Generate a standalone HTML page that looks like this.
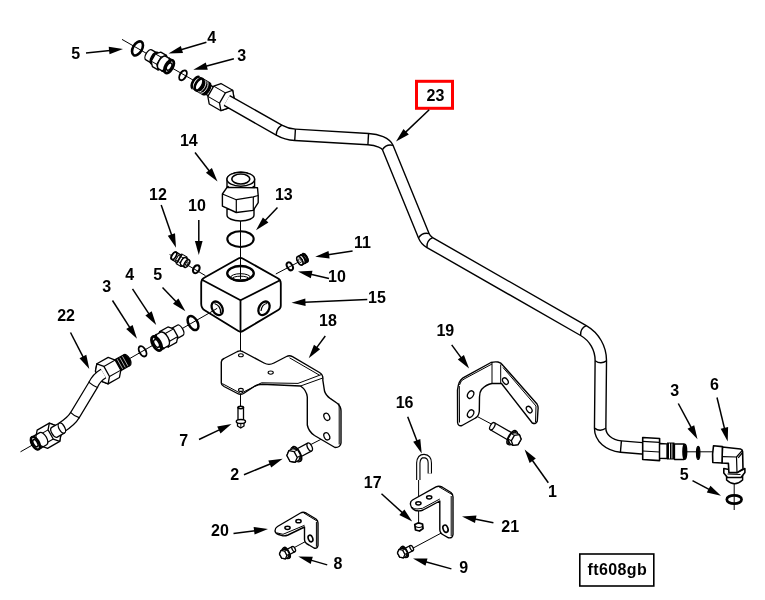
<!DOCTYPE html>
<html><head><meta charset="utf-8"><style>
html,body{margin:0;padding:0;background:#fff;width:765px;height:600px;overflow:hidden}
svg{display:block;will-change:transform}
.l{font-family:"Liberation Sans",sans-serif;font-weight:bold;font-size:16px;fill:#000}
</style></head><body>
<svg width="765" height="600" viewBox="0 0 765 600">
<rect width="765" height="600" fill="#fff"/>
<line x1="122.0" y1="39.4" x2="193.0" y2="80.0" stroke="#000" stroke-width="1.0"/>
<line x1="240.5" y1="221.0" x2="240.5" y2="258.0" stroke="#000" stroke-width="1.0"/>
<line x1="240.5" y1="332.0" x2="240.5" y2="407.0" stroke="#000" stroke-width="1.0"/>
<line x1="169.6" y1="254.5" x2="205.5" y2="275.7" stroke="#000" stroke-width="1.0"/>
<line x1="275.8" y1="274.0" x2="303.6" y2="259.4" stroke="#000" stroke-width="1.0"/>
<line x1="20.5" y1="451.8" x2="50.0" y2="435.0" stroke="#000" stroke-width="1.0"/>
<line x1="128.0" y1="359.5" x2="217.2" y2="308.5" stroke="#000" stroke-width="1.0"/>
<line x1="687.0" y1="451.8" x2="713.0" y2="451.8" stroke="#000" stroke-width="1.0"/>
<line x1="734.2" y1="483.7" x2="734.2" y2="510.0" stroke="#000" stroke-width="1.0"/>
<line x1="309.3" y1="445.3" x2="327.5" y2="436.0" stroke="#000" stroke-width="1.0"/>
<line x1="491.3" y1="424.0" x2="470.7" y2="413.0" stroke="#000" stroke-width="1.0"/>
<line x1="418.6" y1="480.0" x2="418.6" y2="523.0" stroke="#000" stroke-width="1.0"/>
<line x1="409.5" y1="550.0" x2="446.2" y2="530.4" stroke="#000" stroke-width="1.0"/>
<line x1="287.9" y1="551.0" x2="309.8" y2="539.2" stroke="#000" stroke-width="1.0"/>
<g transform="translate(137.50,48.40) rotate(29.90)">
<ellipse cx="0" cy="0" rx="4.5" ry="7.7" fill="none" stroke="#000" stroke-width="2.6"/>
<path d="M21,-5.8 L13,-5.8 A2.9,5.8 0 0 0 13,5.8 L21,5.8" fill="#fff" stroke="#000" stroke-width="1.3"/>
<ellipse cx="21" cy="0" rx="2.9" ry="5.8" fill="#fff" stroke="#000" stroke-width="1.3"/>
<path d="M22.5,-6.6 L19.5,-6.6 A3.3,6.6 0 0 0 19.5,6.6 L22.5,6.6" fill="#000" stroke="#000" stroke-width="1.3"/>
<ellipse cx="22.5" cy="0" rx="3.3" ry="6.6" fill="#000" stroke="#000" stroke-width="1.3"/>
<polygon points="22.00,-8.40 28.50,-8.40 32.28,-4.20 32.28,4.20 28.50,8.40 22.00,8.40 18.22,4.20 18.22,-4.20" fill="#fff" stroke="#000" stroke-width="1.3" stroke-linejoin="round"/>
<polygon points="28.50,-8.40 32.28,-4.20 32.28,4.20 28.50,8.40 24.72,4.20 24.72,-4.20" fill="#fff" stroke="#000" stroke-width="1.3" stroke-linejoin="round"/>
<path d="M24.72,-4.20 L18.22,-4.20 M24.72,4.20 L18.22,4.20" stroke="#000" stroke-width="1.04" fill="none"/>
<path d="M36.5,-7.2 L28.5,-7.2 A3.6,7.2 0 0 0 28.5,7.2 L36.5,7.2" fill="#fff" stroke="#000" stroke-width="1.3"/>
<ellipse cx="36.5" cy="0" rx="3.6" ry="7.2" fill="#fff" stroke="#000" stroke-width="2.8"/>
<path d="M32,-7.2 A3.6,7.2 0 0 1 32,7.2" fill="none" stroke="#000" stroke-width="2.2"/>
<ellipse cx="36.5" cy="0" rx="2.2" ry="4.0" fill="#fff" stroke="#000" stroke-width="1.5"/>
</g>
<g transform="translate(183.00,75.30) rotate(29.90)">
<ellipse cx="0" cy="0" rx="3.1" ry="5.4" fill="none" stroke="#000" stroke-width="1.9"/>
<path d="M36,-5 L27,-5 A2.5,5 0 0 0 27,5 L36,5" fill="#fff" stroke="#000" stroke-width="1.3"/>
<ellipse cx="36" cy="0" rx="2.5" ry="5" fill="#fff" stroke="#000" stroke-width="1.3"/>
<path d="M27,-6.8 L19,-6.8 A3.4,6.8 0 0 0 19,6.8 L27,6.8" fill="#000" stroke="#000" stroke-width="1.3"/>
<ellipse cx="27" cy="0" rx="3.4" ry="6.8" fill="#000" stroke="#000" stroke-width="1.3"/>
<path d="M21.3,-6.6 A3.4,6.6 0 0 1 21.3,6.6 M23.8,-6.6 A3.4,6.6 0 0 1 23.8,6.6" fill="none" stroke="#fff" stroke-width="0.8"/>
<path d="M15,-6.6 A3.3,6.6 0 0 0 15,6.6" fill="none" stroke="#000" stroke-width="2.6"/>
<path d="M15,-6.6 L19,-6.6 M15,6.6 L19,6.6" fill="none" stroke="#000" stroke-width="1.3"/>
<ellipse cx="18.5" cy="0" rx="3.3" ry="6.6" fill="#fff" stroke="#000" stroke-width="2.6"/>
<polygon points="37.00,-11.80 50.50,-11.80 55.46,-5.90 55.46,5.90 50.50,11.80 37.00,11.80 32.04,5.90 32.04,-5.90" fill="#fff" stroke="#000" stroke-width="1.3" stroke-linejoin="round"/>
<polygon points="50.50,-11.80 55.46,-5.90 55.46,5.90 50.50,11.80 45.54,5.90 45.54,-5.90" fill="#fff" stroke="#000" stroke-width="1.3" stroke-linejoin="round"/>
<path d="M45.54,-5.90 L32.04,-5.90 M45.54,5.90 L32.04,5.90" stroke="#000" stroke-width="1.04" fill="none"/>
</g>
<path d="M226.80,100.50 L279.03,130.07 A37,37 0 0 0 295.07,134.81 L368.23,139.13 C377.78,139.69 385.97,143.21 387.73,147.51 L423.78,235.74 A14,14 0 0 0 429.78,242.59 L583.45,330.55 A34.5,34.5 0 0 1 600.81,360.83 L600.16,428.20 C600.07,437.77 608.79,445.46 620.92,446.51 L645.00,448.60" fill="none" stroke="#000" stroke-width="12.8"/>
<path d="M226.80,100.50 L279.03,130.07 A37,37 0 0 0 295.07,134.81 L368.23,139.13 C377.78,139.69 385.97,143.21 387.73,147.51 L423.78,235.74 A14,14 0 0 0 429.78,242.59 L583.45,330.55 A34.5,34.5 0 0 1 600.81,360.83 L600.16,428.20 C600.07,437.77 608.79,445.46 620.92,446.51 L645.00,448.60" fill="none" stroke="#fff" stroke-width="10.0"/>
<path d="M276.22,135.03 Q276.42,128.59 281.83,125.11" fill="none" stroke="#000" stroke-width="1.4"/>
<path d="M294.74,140.50 Q295.07,134.81 295.41,129.12" fill="none" stroke="#000" stroke-width="1.4"/>
<path d="M367.89,144.82 Q368.23,139.13 368.56,133.44" fill="none" stroke="#000" stroke-width="1.4"/>
<path d="M382.45,149.66 Q386.21,143.80 393.00,145.35" fill="none" stroke="#000" stroke-width="1.4"/>
<path d="M418.50,237.89 Q422.26,232.04 429.05,233.58" fill="none" stroke="#000" stroke-width="1.4"/>
<path d="M426.95,247.54 Q426.31,240.61 432.61,237.65" fill="none" stroke="#000" stroke-width="1.4"/>
<path d="M580.61,335.50 Q579.97,328.56 586.28,325.61" fill="none" stroke="#000" stroke-width="1.4"/>
<path d="M595.11,360.77 Q600.77,364.83 606.51,360.88" fill="none" stroke="#000" stroke-width="1.4"/>
<path d="M594.46,428.15 Q600.12,432.20 605.86,428.26" fill="none" stroke="#000" stroke-width="1.4"/>
<path d="M620.43,452.19 Q620.92,446.51 621.41,440.83" fill="none" stroke="#000" stroke-width="1.4"/>
<polygon points="642.7,437.5 659.6,438.5 659.6,460.6 642.7,459.5" fill="#fff" stroke="#000" stroke-width="1.6" stroke-linejoin="round"/>
<line x1="642.7" y1="441.3" x2="659.6" y2="442.3" stroke="#000" stroke-width="1.2"/>
<line x1="642.7" y1="451.0" x2="659.6" y2="452.0" stroke="#000" stroke-width="1.2"/>
<polygon points="659.6,443.5 667.0,443.8 667.0,458.5 659.6,458.3" fill="#fff" stroke="#000" stroke-width="1.3" stroke-linejoin="round"/>
<rect x="667" y="442.5" width="7.5" height="17" fill="#000"/>
<rect x="669" y="443.5" width="1" height="15" fill="#fff"/><rect x="671.5" y="443.5" width="0.8" height="15" fill="#fff"/>
<polygon points="674.5,444.0 684.0,444.0 684.0,459.5 674.5,459.5" fill="#fff" stroke="#000" stroke-width="1.3" stroke-linejoin="round"/>
<ellipse cx="684.8" cy="451.8" rx="1.8" ry="7.5" fill="#000" stroke="#000" stroke-width="1.6"/>
<ellipse cx="698.2" cy="452.9" rx="1.7" ry="6.6" fill="#000" stroke="#000" stroke-width="1.2"/>
<path d="M726.6,475 L726.6,480 Q734.5,487.5 742.6,480 L742.6,475 Z" fill="#fff" stroke="#000" stroke-width="1.5" stroke-linejoin="round"/>
<path d="M723.8,468.5 L728.9,469.5 L737.1,472.6 L744.9,468.5 L744.9,472.5 L741,477.5 L727.5,477.5 L723.8,473 Z" fill="#fff" stroke="#000" stroke-width="1.6" stroke-linejoin="round"/>
<path d="M727.5,474 L740.5,474.5" stroke="#000" stroke-width="1.1" fill="none"/>
<path d="M722.4,447 L740.5,449 Q742.6,449.5 742.6,451.5 L743,469 L737,472.6 L728.9,472.6 L728.4,463.4 L722,463 Z" fill="#fff" stroke="#000" stroke-width="1.6" stroke-linejoin="round"/>
<path d="M722.4,456.6 L736.5,457 L737,472.6 M736.5,457 L742.3,450.3 M738.2,457.8 L742.6,452.5" stroke="#000" stroke-width="1.2" fill="none"/>
<path d="M713.5,445.8 L722.4,446.6 L722,463 L712.8,462.5 Q712,454 713.5,445.8 Z" fill="#fff" stroke="#000" stroke-width="1.6" stroke-linejoin="round"/>
<ellipse cx="734.2" cy="499.5" rx="7.4" ry="4.2" fill="none" stroke="#000" stroke-width="2.7"/>
<path d="M237.89,258.68 Q240.50,257.20 243.11,258.68 L277.75,278.28 Q280.80,280.00 280.80,283.50 L280.80,305.50 Q280.80,308.50 278.22,310.03 L242.65,331.12 Q240.50,332.40 238.37,331.09 L205.03,310.56 Q201.20,308.20 201.20,303.70 L201.20,283.00 Q201.20,279.50 204.24,277.77 Z" fill="#fff" stroke="#000" stroke-width="1.8" stroke-linejoin="round"/>
<polyline points="201.5,279.5 240.5,300.3 280.5,280.0" fill="none" stroke="#000" stroke-width="1.8" stroke-linejoin="round"/>
<line x1="240.5" y1="300.3" x2="240.5" y2="332.2" stroke="#000" stroke-width="1.8"/>
<ellipse cx="240.50" cy="273.30" rx="13.3" ry="7.3" transform="rotate(0.0 240.50 273.30)" fill="none" stroke="#000" stroke-width="2.3"/>
<path d="M228,275 A12.8,6.5 0 0 0 253,275" fill="none" stroke="#000" stroke-width="1.2"/>
<ellipse cx="240.50" cy="277.30" rx="9.8" ry="3.6" transform="rotate(0.0 240.50 277.30)" fill="none" stroke="#000" stroke-width="1.0"/>
<ellipse cx="240.50" cy="278.80" rx="8.5" ry="2.6" transform="rotate(0.0 240.50 278.80)" fill="none" stroke="#000" stroke-width="1.0"/>
<line x1="240.5" y1="258.0" x2="240.5" y2="279.0" stroke="#000" stroke-width="1.0"/>
<ellipse cx="217.20" cy="308.30" rx="5.0" ry="7.3" transform="rotate(-30.0 217.20 308.30)" fill="none" stroke="#000" stroke-width="2.3"/>
<path d="M214.5,303.5 Q221.5,306 220.5,313.5" fill="none" stroke="#000" stroke-width="1.3" transform="rotate(0)"/>
<line x1="210.0" y1="312.6" x2="217.2" y2="308.3" stroke="#000" stroke-width="1.0"/>
<ellipse cx="264.00" cy="308.30" rx="5.0" ry="7.3" transform="rotate(30.0 264.00 308.30)" fill="none" stroke="#000" stroke-width="2.3"/>
<path d="M261,311 Q262,304 267,303.5" fill="none" stroke="#000" stroke-width="1.2"/>
<path d="M227,179.2 L227,190 L254.6,190 L254.6,179.2 A13.8,7 0 0 0 227,179.2 Z" fill="#fff" stroke="#000" stroke-width="1.4" stroke-linejoin="round"/>
<ellipse cx="240.8" cy="179.2" rx="13.8" ry="7" fill="#fff" stroke="#000" stroke-width="1.4"/>
<ellipse cx="240.8" cy="179" rx="9" ry="5" fill="#fff" stroke="#000" stroke-width="1.6"/>
<path d="M227.5,186 A13.5,6.5 0 0 0 254,186" fill="none" stroke="#000" stroke-width="1.8"/>
<path d="M227,209 L227,215 A13.5,6 0 0 0 254,215 L254,209 Z" fill="#fff" stroke="#000" stroke-width="1.4" stroke-linejoin="round"/>
<polygon points="222.4,194.0 227.0,187.4 257.5,187.7 258.2,195.5 258.2,202.6 253.3,210.4 236.3,212.5 222.4,206.1" fill="#fff" stroke="#000" stroke-width="1.4" stroke-linejoin="round"/>
<polyline points="222.4,194.0 236.3,199.7 253.3,196.9 258.2,195.5" fill="none" stroke="#000" stroke-width="1.2" stroke-linejoin="round"/>
<line x1="236.3" y1="199.7" x2="236.3" y2="212.5" stroke="#000" stroke-width="1.2"/>
<line x1="253.3" y1="196.9" x2="253.3" y2="210.4" stroke="#000" stroke-width="1.2"/>
<ellipse cx="240.5" cy="239.1" rx="13.2" ry="7.9" fill="none" stroke="#000" stroke-width="2.1"/>
<g transform="translate(196.30,269.20) rotate(31.00)">
<ellipse cx="0" cy="0" rx="2.9" ry="4.3" fill="none" stroke="#000" stroke-width="2.1"/>
<path d="M-19.5,-4.3 L-26,-4.3 A2.15,4.3 0 0 0 -26,4.3 L-19.5,4.3" fill="#fff" stroke="#000" stroke-width="1.3"/>
<ellipse cx="-19.5" cy="0" rx="2.15" ry="4.3" fill="#fff" stroke="#000" stroke-width="1.3"/>
<ellipse cx="-26" cy="0" rx="2.0" ry="4.1" fill="#fff" stroke="#000" stroke-width="1.8"/>
<polygon points="-20.00,-5.60 -14.50,-5.60 -11.98,-2.80 -11.98,2.80 -14.50,5.60 -20.00,5.60 -22.52,2.80 -22.52,-2.80" fill="#fff" stroke="#000" stroke-width="1.0" stroke-linejoin="round"/>
<polygon points="-14.50,-5.60 -11.98,-2.80 -11.98,2.80 -14.50,5.60 -17.02,2.80 -17.02,-2.80" fill="#fff" stroke="#000" stroke-width="1.0" stroke-linejoin="round"/>
<path d="M-17.02,-2.80 L-22.52,-2.80 M-17.02,2.80 L-22.52,2.80" stroke="#000" stroke-width="0.8" fill="none"/>
<path d="M-20,-5.2 L-20,5.2" stroke="#000" stroke-width="1.8"/>
<path d="M-11,-4.3 L-15,-4.3 A2.15,4.3 0 0 0 -15,4.3 L-11,4.3" fill="#fff" stroke="#000" stroke-width="1.3"/>
<ellipse cx="-11" cy="0" rx="2.15" ry="4.3" fill="#fff" stroke="#000" stroke-width="1.6"/>
<ellipse cx="-11" cy="0" rx="1" ry="2" fill="#fff" stroke="#000" stroke-width="1.0"/>
</g>
<g transform="translate(289.80,266.30) rotate(-29.00)">
<ellipse cx="0" cy="0" rx="2.6" ry="4.3" fill="none" stroke="#000" stroke-width="2"/>
<path d="M11.5,-4.6 L17,-4.6 A2.3,4.6 0 0 1 17,4.6 L11.5,4.6" fill="#fff" stroke="#000" stroke-width="1.5"/>
<ellipse cx="11.5" cy="0" rx="2.3" ry="4.6" fill="#fff" stroke="#000" stroke-width="1.5"/>
<path d="M14.5,-4.6 A2.3,4.6 0 0 1 14.5,4.6 M17,-4.6 A2.3,4.6 0 0 1 17,4.6" fill="none" stroke="#000" stroke-width="2.2"/>
<ellipse cx="11.5" cy="0" rx="2.3" ry="4.6" fill="#fff" stroke="#000" stroke-width="1.5"/>
<ellipse cx="11.5" cy="0" rx="1.1" ry="2.2" fill="none" stroke="#000" stroke-width="0.7"/>
</g>
<g transform="translate(142.60,351.30) rotate(-29.30)">
<ellipse cx="0" cy="0" rx="3.2" ry="5.6" fill="none" stroke="#000" stroke-width="1.9"/>
<path d="M34,-5.8 L43,-5.8 A2.9,5.8 0 0 1 43,5.8 L34,5.8" fill="#fff" stroke="#000" stroke-width="1.3"/>
<ellipse cx="34" cy="0" rx="2.9" ry="5.8" fill="#fff" stroke="#000" stroke-width="1.3"/>
<polygon points="24.50,-8.80 34.00,-8.80 37.96,-4.40 37.96,4.40 34.00,8.80 24.50,8.80 20.54,4.40 20.54,-4.40" fill="#fff" stroke="#000" stroke-width="1.3" stroke-linejoin="round"/>
<polygon points="24.50,-8.80 28.46,-4.40 28.46,4.40 24.50,8.80 20.54,4.40 20.54,-4.40" fill="#fff" stroke="#000" stroke-width="1.3" stroke-linejoin="round"/>
<path d="M28.46,-4.40 L37.96,-4.40 M28.46,4.40 L37.96,4.40" stroke="#000" stroke-width="1.04" fill="none"/>
<path d="M16,-7.8 L25,-7.8 A3.9,7.8 0 0 1 25,7.8 L16,7.8" fill="#fff" stroke="#000" stroke-width="1.3"/>
<ellipse cx="16" cy="0" rx="3.9" ry="7.8" fill="#fff" stroke="#000" stroke-width="2.8"/>
<path d="M20.5,-7.8 A3.9,7.8 0 0 0 20.5,7.8" fill="none" stroke="#000" stroke-width="2.2"/>
<ellipse cx="16" cy="0" rx="2.3" ry="4.2" fill="#fff" stroke="#000" stroke-width="1.5"/>
<ellipse cx="57.8" cy="0" rx="4.5" ry="7.7" fill="none" stroke="#000" stroke-width="2.5"/>
<path d="M-18,-6.2 L-31,-6.2 A3.1,6.2 0 0 0 -31,6.2 L-18,6.2" fill="#000" stroke="#000" stroke-width="1.3"/>
<ellipse cx="-18" cy="0" rx="3.1" ry="6.2" fill="#000" stroke="#000" stroke-width="1.3"/>
<path d="M-26,-5.5 L-26,5.5 M-23,-5.5 L-23,5.5 M-20,-5.5 L-20,5.5" stroke="#fff" stroke-width="0.6"/>
<polygon points="-46.00,-11.50 -33.00,-11.50 -28.17,-5.75 -28.17,5.75 -33.00,11.50 -46.00,11.50 -50.83,5.75 -50.83,-5.75" fill="#fff" stroke="#000" stroke-width="1.3" stroke-linejoin="round"/>
<polygon points="-46.00,-11.50 -41.17,-5.75 -41.17,5.75 -46.00,11.50 -50.83,5.75 -50.83,-5.75" fill="#fff" stroke="#000" stroke-width="1.3" stroke-linejoin="round"/>
<path d="M-41.17,-5.75 L-28.17,-5.75 M-41.17,5.75 L-28.17,5.75" stroke="#000" stroke-width="1.04" fill="none"/>
</g>
<path d="M103.5,373.5 Q96.5,377.5 93.2,384.8 L75,415 Q71.5,421 61.5,427.5" fill="none" stroke="#000" stroke-width="11.2"/>
<path d="M103.5,373.5 Q96.5,377.5 93.2,384.8 L75,415 Q71.5,421 61.5,427.5" fill="none" stroke="#fff" stroke-width="8.8"/>
<path d="M88.4,381.9 Q92.5,385.5 98,387.7 M70.2,412.1 Q74.5,416.5 79.8,417.9" fill="none" stroke="#000" stroke-width="1.2"/>
<g transform="translate(38.00,441.70) rotate(-29.70)">
<polygon points="5.00,-10.50 19.00,-10.50 23.41,-5.25 23.41,5.25 19.00,10.50 5.00,10.50 0.59,5.25 0.59,-5.25" fill="#fff" stroke="#000" stroke-width="1.3" stroke-linejoin="round"/>
<polygon points="19.00,-10.50 23.41,-5.25 23.41,5.25 19.00,10.50 14.59,5.25 14.59,-5.25" fill="#fff" stroke="#000" stroke-width="1.3" stroke-linejoin="round"/>
<path d="M14.59,-5.25 L0.59,-5.25 M14.59,5.25 L0.59,5.25" stroke="#000" stroke-width="1.04" fill="none"/>
<path d="M27.5,-5.6 L19,-5.6 A2.8,5.6 0 0 0 19,5.6 L27.5,5.6" fill="#fff" stroke="#000" stroke-width="1.3"/>
<ellipse cx="27.5" cy="0" rx="2.8" ry="5.6" fill="#fff" stroke="#000" stroke-width="1.3"/>
<path d="M-3,-7.0 L6,-7.0 A3.5,7.0 0 0 1 6,7.0 L-3,7.0" fill="#fff" stroke="#000" stroke-width="1.3"/>
<ellipse cx="-3" cy="0" rx="3.5" ry="7.0" fill="#fff" stroke="#000" stroke-width="1.3"/>
<path d="M0.5,-7.2 A3.5,7.2 0 0 0 0.5,7.2 M3,-7.2 A3.5,7.2 0 0 0 3,7.2" fill="none" stroke="#000" stroke-width="1.3"/>
<ellipse cx="-3" cy="0" rx="3.5" ry="7.0" fill="#fff" stroke="#000" stroke-width="2.4"/>
<ellipse cx="-3" cy="0" rx="2.0" ry="4.0" fill="#fff" stroke="#000" stroke-width="1.6"/>
</g>
<path d="M221.3,362 Q221.5,359.5 224,358.5 L237.5,351.5 Q240,350.3 242.5,351.5 L264,363 Q269,365.7 274,363 L286.5,356.5 Q289.5,355 292.5,356.7 L319.5,372.5 Q323.5,375 322.8,380 L324.5,391 Q325.5,395 330.5,398.7 L337.5,403.5 Q341,406.5 341,411 L341,443 Q340.5,447.5 335,447.5 L314.5,435.5 Q308.5,431.5 307.3,425 L307.3,397 Q306.5,390 300.5,386 L262,384.3 Q258,384.5 255,386 L243.5,393.5 Q240.5,395.3 237.5,393.5 L224,386.5 Q221.3,385 221.3,383 Z" fill="#fff" stroke="#000" stroke-width="1.4" stroke-linejoin="round"/>
<path d="M222.3,383.6 L240.7,393.4 L261.5,382.8 L298,383.4 L321.5,374.5 M338.8,403.3 Q339.3,407 339.2,411 L339.2,444.5 M300.5,386 L322.8,378 M289.5,357.8 L319.5,375.2" stroke="#000" stroke-width="1.0" fill="none"/>
<ellipse cx="240.9" cy="355.2" rx="2.4" ry="1.5" fill="#fff" stroke="#000" stroke-width="1.1"/>
<ellipse cx="270.7" cy="372.6" rx="2.6" ry="1.6" fill="#fff" stroke="#000" stroke-width="1.1"/>
<ellipse cx="240.9" cy="389.9" rx="2.4" ry="1.5" fill="#fff" stroke="#000" stroke-width="1.1"/>
<ellipse cx="326.80" cy="416.80" rx="2.7" ry="3.8" transform="rotate(-25.0 326.80 416.80)" fill="none" stroke="#000" stroke-width="1.3"/>
<ellipse cx="326.80" cy="436.30" rx="2.7" ry="3.8" transform="rotate(-25.0 326.80 436.30)" fill="none" stroke="#000" stroke-width="1.3"/>
<path d="M238,407.5 L243.5,407.5 L243.5,420 L238,420 Z" fill="#fff" stroke="#000" stroke-width="1.3" stroke-linejoin="round"/>
<ellipse cx="240.75" cy="407.5" rx="2.75" ry="1.2" fill="#fff" stroke="#000" stroke-width="1.6"/>
<path d="M237.5,422 L244,422 L244,426 L240.75,428 L237.5,426 Z" fill="#fff" stroke="#000" stroke-width="1.3" stroke-linejoin="round"/>
<ellipse cx="240.9" cy="421.5" rx="4.6" ry="2.0" fill="#fff" stroke="#000" stroke-width="1.4"/>
<line x1="240.8" y1="423.5" x2="240.8" y2="427.5" stroke="#000" stroke-width="0.9"/>
<g transform="translate(292.5,456.2) rotate(-28) scale(1.0)">
<path d="M19.5,-4.4 L6,-4.4 A2.2,4.4 0 0 0 6,4.4 L19.5,4.4" fill="#fff" stroke="#000" stroke-width="1.3"/>
<ellipse cx="19.5" cy="0" rx="2.2" ry="4.4" fill="#fff" stroke="#000" stroke-width="1.3"/>
<ellipse cx="5" cy="0" rx="3.3" ry="8.2" fill="#fff" stroke="#000" stroke-width="1.6"/>
<ellipse cx="3.5" cy="0" rx="3.3" ry="8.0" fill="#fff" stroke="#000" stroke-width="1.3"/>
<polygon points="-0.50,-6.60 3.50,-6.60 7.59,-3.30 7.59,3.30 3.50,6.60 -0.50,6.60 -4.59,3.30 -4.59,-3.30" fill="#fff" stroke="#000" stroke-width="1.3" stroke-linejoin="round"/>
<polygon points="-0.50,-6.60 3.59,-3.30 3.59,3.30 -0.50,6.60 -4.59,3.30 -4.59,-3.30" fill="#fff" stroke="#000" stroke-width="1.3" stroke-linejoin="round"/>
<path d="M3.59,-3.30 L7.59,-3.30 M3.59,3.30 L7.59,3.30" stroke="#000" stroke-width="1.04" fill="none"/>
</g>
<path d="M457.5,390 Q458.5,380.5 463,377.8 L491,362.5 Q494.5,361.5 498,362 Q501,362.5 503,365.5 L537,404 Q538.5,406.5 538,409.5 L537.3,421 Q536,424.5 532.3,423 L501.5,383.5 L492,383.5 Q486,384.5 481.5,389.5 Q479.5,392 479.5,397 L479.3,411.5 Q478.5,416.5 475.5,418 L462,425.5 Q458,426.5 457.6,422.5 Z" fill="#fff" stroke="#000" stroke-width="1.4" stroke-linejoin="round"/>
<path d="M492,362.5 L492,383.5 M500.7,364.5 L500.7,384 M459.5,385 Q460.5,380 465,378.5 L492,364 M459.3,386 L459.5,422.5 M503,367.5 L536,406 L535.5,422" stroke="#000" stroke-width="1.0" fill="none"/>
<ellipse cx="470.60" cy="394.60" rx="2.8" ry="4.0" transform="rotate(30.0 470.60 394.60)" fill="none" stroke="#000" stroke-width="1.3"/>
<ellipse cx="470.60" cy="413.60" rx="2.8" ry="4.0" transform="rotate(30.0 470.60 413.60)" fill="none" stroke="#000" stroke-width="1.3"/>
<ellipse cx="505.40" cy="381.10" rx="2.4" ry="3.6" transform="rotate(-35.0 505.40 381.10)" fill="none" stroke="#000" stroke-width="1.3"/>
<ellipse cx="529.20" cy="409.60" rx="2.4" ry="3.6" transform="rotate(-35.0 529.20 409.60)" fill="none" stroke="#000" stroke-width="1.3"/>
<g transform="translate(515.8,439.8) rotate(-150) scale(0.95)">
<path d="M28.5,-4.3 L6,-4.3 A2.15,4.3 0 0 0 6,4.3 L28.5,4.3" fill="#fff" stroke="#000" stroke-width="1.368421052631579"/>
<ellipse cx="28.5" cy="0" rx="2.15" ry="4.3" fill="#fff" stroke="#000" stroke-width="1.368421052631579"/>
<ellipse cx="5" cy="0" rx="3.3" ry="8.2" fill="#fff" stroke="#000" stroke-width="1.6842105263157896"/>
<ellipse cx="3.5" cy="0" rx="3.3" ry="8.0" fill="#fff" stroke="#000" stroke-width="1.368421052631579"/>
<polygon points="-0.50,-6.60 3.50,-6.60 7.59,-3.30 7.59,3.30 3.50,6.60 -0.50,6.60 -4.59,3.30 -4.59,-3.30" fill="#fff" stroke="#000" stroke-width="1.368421052631579" stroke-linejoin="round"/>
<polygon points="-0.50,-6.60 3.59,-3.30 3.59,3.30 -0.50,6.60 -4.59,3.30 -4.59,-3.30" fill="#fff" stroke="#000" stroke-width="1.368421052631579" stroke-linejoin="round"/>
<path d="M3.59,-3.30 L7.59,-3.30 M3.59,3.30 L7.59,3.30" stroke="#000" stroke-width="1.0947368421052632" fill="none"/>
</g>
<path d="M418.3,480 L418.3,463 Q418.8,456 424,456 Q429.8,456.5 429.8,463 L429.8,473.5" fill="none" stroke="#000" stroke-width="4.4"/>
<path d="M418.3,480 L418.3,463 Q418.8,456 424,456 Q429.8,456.5 429.8,463 L429.8,473.5" fill="none" stroke="#fff" stroke-width="2.2"/>
<path d="M410.5,504.5 Q410,501.5 412.5,500 L436,486.8 Q439,485.5 442,487 L451,492.5 Q453,494 453,497 L453,534.5 Q452.5,538.5 448.5,537.8 L443.5,535 Q439.8,533 439.8,529.5 L439.8,501 L423,510 Q419.5,511.5 415.5,510.5 Q411,508.5 410.5,504.5 Z" fill="#fff" stroke="#000" stroke-width="1.4" stroke-linejoin="round"/>
<path d="M411.5,507 Q414,509.3 417,509 L422.5,508.3 L439.8,499 M438.5,486.5 L452,494.5 M451.2,496 L451.2,536" stroke="#000" stroke-width="1.0" fill="none"/>
<ellipse cx="418.4" cy="503.3" rx="2.6" ry="1.6" fill="#fff" stroke="#000" stroke-width="1.5"/>
<ellipse cx="429.2" cy="497.3" rx="2.6" ry="1.6" fill="#fff" stroke="#000" stroke-width="1.5"/>
<ellipse cx="445.50" cy="528.70" rx="2.4" ry="3.8" transform="rotate(-20.0 445.50 528.70)" fill="none" stroke="#000" stroke-width="1.6"/>
<polygon points="414.8,524.5 418.5,522.8 422.5,524 423,528.5 419.5,531 415.5,530" fill="#fff" stroke="#000" stroke-width="1.8" stroke-linejoin="round"/>
<path d="M415.5,526.5 Q419,528.5 422.5,526.5" fill="none" stroke="#000" stroke-width="1.2"/>
<g transform="translate(401.5,553.5) rotate(-28) scale(0.72)">
<path d="M16,-4.0 L6,-4.0 A2.0,4.0 0 0 0 6,4.0 L16,4.0" fill="#fff" stroke="#000" stroke-width="1.8055555555555556"/>
<ellipse cx="16" cy="0" rx="2.0" ry="4.0" fill="#fff" stroke="#000" stroke-width="1.8055555555555556"/>
<ellipse cx="5" cy="0" rx="3.3" ry="8.2" fill="#fff" stroke="#000" stroke-width="2.2222222222222223"/>
<ellipse cx="3.5" cy="0" rx="3.3" ry="8.0" fill="#fff" stroke="#000" stroke-width="1.8055555555555556"/>
<polygon points="-0.50,-6.60 3.50,-6.60 7.59,-3.30 7.59,3.30 3.50,6.60 -0.50,6.60 -4.59,3.30 -4.59,-3.30" fill="#fff" stroke="#000" stroke-width="1.8055555555555556" stroke-linejoin="round"/>
<polygon points="-0.50,-6.60 3.59,-3.30 3.59,3.30 -0.50,6.60 -4.59,3.30 -4.59,-3.30" fill="#fff" stroke="#000" stroke-width="1.8055555555555556" stroke-linejoin="round"/>
<path d="M3.59,-3.30 L7.59,-3.30 M3.59,3.30 L7.59,3.30" stroke="#000" stroke-width="1.4444444444444446" fill="none"/>
</g>
<path d="M275,531 Q275,528 277.5,526.5 L300.5,513 Q303,511.5 306,513 L316,519 Q318,520.5 318,523 L318,545.5 Q317.5,549 314,548 L309,545 Q304.5,543 304.5,539.5 L304.5,527 L288,535 Q285.5,536 283,535.8 L278.5,534.5 Q275.3,533.5 275,531 Z" fill="#fff" stroke="#000" stroke-width="1.4" stroke-linejoin="round"/>
<path d="M276.5,532.8 L283,534.3 L304.5,525.3 M303.5,512.8 L317,521 M316.4,522 L316.4,546.8" stroke="#000" stroke-width="1.0" fill="none"/>
<ellipse cx="287.5" cy="527.8" rx="2.6" ry="1.6" fill="#fff" stroke="#000" stroke-width="1.5"/>
<ellipse cx="298.5" cy="521.2" rx="2.6" ry="1.6" fill="#fff" stroke="#000" stroke-width="1.5"/>
<ellipse cx="310.50" cy="538.50" rx="2.2" ry="3.5" transform="rotate(-20.0 310.50 538.50)" fill="none" stroke="#000" stroke-width="1.6"/>
<g transform="translate(283.5,554.5) rotate(-28) scale(0.72)">
<path d="M16,-4.0 L6,-4.0 A2.0,4.0 0 0 0 6,4.0 L16,4.0" fill="#fff" stroke="#000" stroke-width="1.8055555555555556"/>
<ellipse cx="16" cy="0" rx="2.0" ry="4.0" fill="#fff" stroke="#000" stroke-width="1.8055555555555556"/>
<ellipse cx="5" cy="0" rx="3.3" ry="8.2" fill="#fff" stroke="#000" stroke-width="2.2222222222222223"/>
<ellipse cx="3.5" cy="0" rx="3.3" ry="8.0" fill="#fff" stroke="#000" stroke-width="1.8055555555555556"/>
<polygon points="-0.50,-6.60 3.50,-6.60 7.59,-3.30 7.59,3.30 3.50,6.60 -0.50,6.60 -4.59,3.30 -4.59,-3.30" fill="#fff" stroke="#000" stroke-width="1.8055555555555556" stroke-linejoin="round"/>
<polygon points="-0.50,-6.60 3.59,-3.30 3.59,3.30 -0.50,6.60 -4.59,3.30 -4.59,-3.30" fill="#fff" stroke="#000" stroke-width="1.8055555555555556" stroke-linejoin="round"/>
<path d="M3.59,-3.30 L7.59,-3.30 M3.59,3.30 L7.59,3.30" stroke="#000" stroke-width="1.4444444444444446" fill="none"/>
</g>
<text x="75.7" y="58.5" text-anchor="middle" class="l">5</text>
<text x="211.6" y="42.8" text-anchor="middle" class="l">4</text>
<text x="241.7" y="61.0" text-anchor="middle" class="l">3</text>
<text x="188.8" y="145.8" text-anchor="middle" class="l">14</text>
<text x="158.0" y="199.5" text-anchor="middle" class="l">12</text>
<text x="197.0" y="210.8" text-anchor="middle" class="l">10</text>
<text x="283.8" y="199.5" text-anchor="middle" class="l">13</text>
<text x="362.4" y="248.2" text-anchor="middle" class="l">11</text>
<text x="337.0" y="282.1" text-anchor="middle" class="l">10</text>
<text x="377.0" y="302.8" text-anchor="middle" class="l">15</text>
<text x="106.8" y="292.2" text-anchor="middle" class="l">3</text>
<text x="129.6" y="280.2" text-anchor="middle" class="l">4</text>
<text x="157.6" y="280.2" text-anchor="middle" class="l">5</text>
<text x="66.1" y="321.4" text-anchor="middle" class="l">22</text>
<text x="328.0" y="325.8" text-anchor="middle" class="l">18</text>
<text x="183.8" y="445.8" text-anchor="middle" class="l">7</text>
<text x="234.7" y="480.4" text-anchor="middle" class="l">2</text>
<text x="219.9" y="535.5" text-anchor="middle" class="l">20</text>
<text x="338.0" y="568.8" text-anchor="middle" class="l">8</text>
<text x="445.3" y="336.4" text-anchor="middle" class="l">19</text>
<text x="552.5" y="497.1" text-anchor="middle" class="l">1</text>
<text x="404.6" y="408.4" text-anchor="middle" class="l">16</text>
<text x="372.7" y="487.9" text-anchor="middle" class="l">17</text>
<text x="510.2" y="532.1" text-anchor="middle" class="l">21</text>
<text x="463.7" y="572.9" text-anchor="middle" class="l">9</text>
<text x="674.7" y="395.8" text-anchor="middle" class="l">3</text>
<text x="714.5" y="389.8" text-anchor="middle" class="l">6</text>
<text x="684.2" y="479.8" text-anchor="middle" class="l">5</text>
<text x="435.5" y="101.2" text-anchor="middle" class="l">23</text>
<rect x="416.5" y="81.3" width="36" height="27" fill="none" stroke="#f00" stroke-width="3"/>
<rect x="579.8" y="554" width="74" height="32" fill="none" stroke="#000" stroke-width="1.6"/>
<text x="587.5" y="574.7" class="l" letter-spacing="0.38">ft608gb</text>
<line x1="86.0" y1="53.0" x2="110.1" y2="50.4" stroke="#000" stroke-width="1.5"/>
<polygon points="123.0,49.0 109.5,54.3 108.7,46.7" fill="#000"/>
<line x1="206.4" y1="42.2" x2="181.0" y2="49.8" stroke="#000" stroke-width="1.5"/>
<polygon points="168.5,53.5 180.8,45.9 183.0,53.1" fill="#000"/>
<line x1="233.9" y1="58.7" x2="205.8" y2="66.3" stroke="#000" stroke-width="1.5"/>
<polygon points="193.3,69.7 205.8,62.4 207.8,69.7" fill="#000"/>
<line x1="429.2" y1="109.8" x2="405.4" y2="132.4" stroke="#000" stroke-width="1.5"/>
<polygon points="396.0,141.4 403.5,129.0 408.8,134.5" fill="#000"/>
<line x1="195.0" y1="152.5" x2="209.5" y2="171.2" stroke="#000" stroke-width="1.5"/>
<polygon points="217.5,181.5 205.9,172.8 211.9,168.1" fill="#000"/>
<line x1="161.2" y1="205.0" x2="171.8" y2="235.5" stroke="#000" stroke-width="1.5"/>
<polygon points="176.0,247.8 167.8,235.8 175.0,233.3" fill="#000"/>
<line x1="198.8" y1="220.0" x2="198.8" y2="242.0" stroke="#000" stroke-width="1.5"/>
<polygon points="198.8,255.0 194.9,241.0 202.6,241.0" fill="#000"/>
<line x1="277.5" y1="207.5" x2="264.9" y2="220.8" stroke="#000" stroke-width="1.5"/>
<polygon points="256.0,230.2 262.9,217.4 268.4,222.6" fill="#000"/>
<line x1="352.6" y1="251.0" x2="328.0" y2="254.8" stroke="#000" stroke-width="1.5"/>
<polygon points="315.2,256.8 328.5,250.9 329.6,258.4" fill="#000"/>
<line x1="329.0" y1="278.4" x2="310.7" y2="274.3" stroke="#000" stroke-width="1.5"/>
<polygon points="298.0,271.5 312.5,270.8 310.8,278.3" fill="#000"/>
<line x1="367.3" y1="299.6" x2="304.5" y2="302.3" stroke="#000" stroke-width="1.5"/>
<polygon points="291.5,302.8 305.3,298.4 305.6,306.0" fill="#000"/>
<line x1="112.5" y1="300.5" x2="130.0" y2="327.8" stroke="#000" stroke-width="1.5"/>
<polygon points="137.0,338.7 126.2,329.0 132.6,324.9" fill="#000"/>
<line x1="132.5" y1="288.8" x2="149.1" y2="314.1" stroke="#000" stroke-width="1.5"/>
<polygon points="156.2,325.0 145.4,315.4 151.7,311.2" fill="#000"/>
<line x1="162.5" y1="287.5" x2="176.4" y2="301.9" stroke="#000" stroke-width="1.5"/>
<polygon points="185.4,311.3 173.0,303.8 178.4,298.6" fill="#000"/>
<line x1="70.5" y1="332.5" x2="83.3" y2="357.4" stroke="#000" stroke-width="1.5"/>
<polygon points="89.3,369.0 79.5,358.3 86.3,354.8" fill="#000"/>
<line x1="325.3" y1="336.0" x2="316.5" y2="347.9" stroke="#000" stroke-width="1.5"/>
<polygon points="308.7,358.3 314.0,344.8 320.1,349.3" fill="#000"/>
<line x1="199.0" y1="439.5" x2="219.8" y2="429.6" stroke="#000" stroke-width="1.5"/>
<polygon points="231.5,424.0 220.5,433.5 217.2,426.6" fill="#000"/>
<line x1="244.0" y1="474.7" x2="270.7" y2="463.7" stroke="#000" stroke-width="1.5"/>
<polygon points="282.7,458.7 271.2,467.6 268.3,460.5" fill="#000"/>
<line x1="233.5" y1="533.5" x2="255.1" y2="530.7" stroke="#000" stroke-width="1.5"/>
<polygon points="268.0,529.0 254.6,534.6 253.6,527.0" fill="#000"/>
<line x1="327.2" y1="564.9" x2="310.8" y2="560.1" stroke="#000" stroke-width="1.5"/>
<polygon points="298.3,556.5 312.8,556.8 310.7,564.1" fill="#000"/>
<line x1="451.7" y1="344.9" x2="461.4" y2="358.1" stroke="#000" stroke-width="1.5"/>
<polygon points="469.1,368.6 457.8,359.6 463.9,355.1" fill="#000"/>
<line x1="548.3" y1="482.7" x2="532.1" y2="460.0" stroke="#000" stroke-width="1.5"/>
<polygon points="524.6,449.4 535.8,458.6 529.6,463.0" fill="#000"/>
<line x1="407.7" y1="416.7" x2="417.1" y2="441.3" stroke="#000" stroke-width="1.5"/>
<polygon points="421.7,453.5 413.2,441.8 420.3,439.1" fill="#000"/>
<line x1="381.5" y1="493.7" x2="402.6" y2="512.9" stroke="#000" stroke-width="1.5"/>
<polygon points="412.2,521.6 399.3,515.0 404.4,509.4" fill="#000"/>
<line x1="493.4" y1="522.7" x2="474.7" y2="519.0" stroke="#000" stroke-width="1.5"/>
<polygon points="462.0,516.4 476.5,515.4 475.0,522.9" fill="#000"/>
<line x1="451.4" y1="568.9" x2="425.5" y2="561.8" stroke="#000" stroke-width="1.5"/>
<polygon points="413.0,558.4 427.5,558.4 425.5,565.8" fill="#000"/>
<line x1="678.3" y1="403.5" x2="691.4" y2="427.8" stroke="#000" stroke-width="1.5"/>
<polygon points="697.5,439.3 687.5,428.8 694.2,425.2" fill="#000"/>
<line x1="717.0" y1="397.5" x2="724.6" y2="428.9" stroke="#000" stroke-width="1.5"/>
<polygon points="727.7,441.5 720.7,428.8 728.1,427.0" fill="#000"/>
<line x1="692.5" y1="480.7" x2="709.5" y2="489.6" stroke="#000" stroke-width="1.5"/>
<polygon points="721.0,495.7 706.8,492.5 710.4,485.8" fill="#000"/>
</svg></body></html>
